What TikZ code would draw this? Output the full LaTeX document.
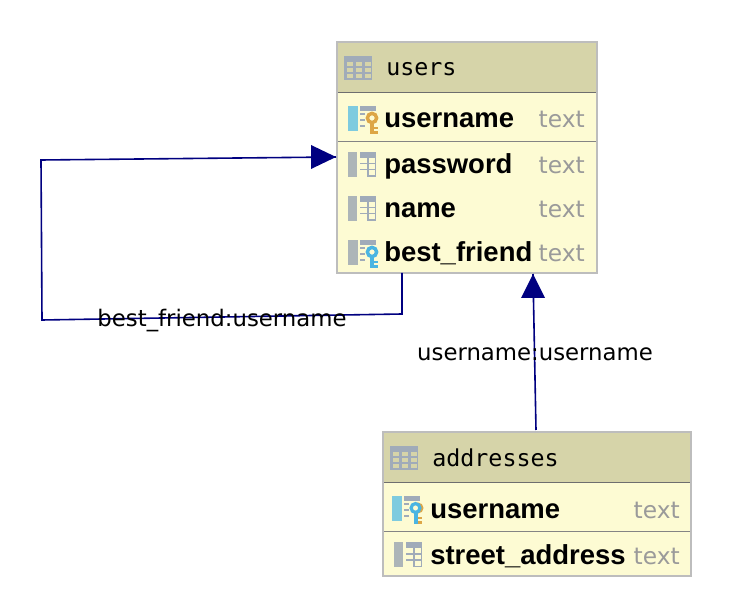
\documentclass[tikz,border=0pt]{standalone}
\usepackage{fontspec}
\setmainfont{Liberation Sans}
\newfontfamily\hdrfont{DejaVu Sans Mono}
\newfontfamily\lblfont{DejaVu Sans}
\newfontfamily\colfont{Liberation Sans}[BoldFont={Liberation Sans Bold}]
\definecolor{hdr}{HTML}{D6D4A9}
\definecolor{body}{HTML}{FDFBD3}
\definecolor{bord}{HTML}{BDBDBD}
\definecolor{sep}{HTML}{6E6E6E}
\definecolor{ico}{HTML}{A0ABB9}
\definecolor{bar}{HTML}{ADB5B8}
\definecolor{pk}{HTML}{7ECBDF}
\definecolor{gold}{HTML}{DDA646}
\definecolor{blu}{HTML}{4AB5E2}
\definecolor{lnk}{HTML}{000080}
\definecolor{typ}{HTML}{9A9A9A}
\tikzset{
  tablebox/.style={draw=bord,line width=1.5pt,fill=body,inner sep=0pt,outer sep=0pt,minimum width=0pt},
  headtext/.style={anchor=base west,inner sep=0pt,font=\hdrfont\fontsize{17.5}{20}\selectfont,text=black},
  coltext/.style={anchor=base west,inner sep=0pt,font=\colfont\bfseries\fontsize{20.6}{23}\selectfont,text=black},
  typetext/.style={anchor=base east,inner sep=0pt,font=\lblfont\fontsize{17.5}{20}\selectfont,text=typ},
  lbl/.style={inner sep=0pt,font=\lblfont\fontsize{17.1}{20}\selectfont,text=black},
  link/.style={draw=lnk,line width=1.2pt,line join=miter},
  tip/.style={fill=lnk,draw=none}
}
% table icon at top-left (x,y)
\newcommand{\tblicon}[2]{%
  \begin{scope}[shift={(#1,#2)}]
    \fill[ico] (0,0) rectangle (28,24);
    \foreach \cx in {2.5,11.5,20.5}\foreach \cy in {6.5,12.5,18}
      \fill[hdr] (\cx,\cy) rectangle ++(6.5,4);
  \end{scope}}
% column icon at top-left (x,y), #3 bar colour
\newcommand{\colicon}[3]{%
  \begin{scope}[shift={(#1,#2)}]
    \fill[#3] (0,0) rectangle (9,25);
    \fill[ico] (12,0) rectangle (28,6);
    \fill[ico] (12,11) rectangle (28,12.5);
    \fill[ico] (12,17) rectangle (28,18.5);
    \fill[ico] (19,6) rectangle (20.5,25);
    \fill[ico] (26.5,6) rectangle (28,25);
    \fill[ico] (19,23.5) rectangle (28,25);
  \end{scope}}
% key column icon: #3 bar colour, #4 key colour
\newcommand{\keyicon}[4]{%
  \begin{scope}[shift={(#1,#2)}]
    \fill[#3] (0,0) rectangle (10,25);
    \fill[ico] (12,0) rectangle (28,5);
    \fill[ico] (12,7) rectangle (17,9);
    \fill[ico] (12,13) rectangle (17,15);
    \fill[ico] (12,19) rectangle (17,21);
    \draw[#4,line width=3pt] (24,14) -- (24,28);
    \draw[#4,line width=2.2pt] (24,22) -- (30,22);
    \draw[#4,line width=2.2pt] (24,26.5) -- (30,26.5);
    \draw[#4,line width=2.6pt,fill=body] (24,12) circle (4.6);
  \end{scope}}
\begin{document}
\begin{tikzpicture}[x=0.75pt,y=-0.75pt]
\useasboundingbox (0,0) rectangle (732,616);
% tables
\node[tablebox,minimum width=195pt,minimum height=173.25pt,anchor=north west] (users) at (337,42) {};
\fill[hdr] (338,43) rectangle (596,92);
\draw[sep,line width=1.3pt] (338,92.5) -- (596,92.5);
\draw[sep!85!white,line width=1.3pt] (338,141.5) -- (596,141.5);
\node[tablebox,minimum width=231pt,minimum height=108pt,anchor=north west] (addr) at (383,432) {};
\fill[hdr] (384,433) rectangle (690,482);
\draw[sep,line width=1.3pt] (384,482.5) -- (690,482.5);
\draw[sep!85!white,line width=1.3pt] (384,531.5) -- (690,531.5);
% icons
\tblicon{344}{56}
\keyicon{348}{106}{pk}{gold}
\colicon{348}{152}{bar}
\colicon{348}{196}{bar}
\keyicon{348}{240}{bar}{blu}
\tblicon{390}{446}
\begin{scope}[shift={(392,496)}]
  \fill[pk] (0,0) rectangle (10,25);
  \fill[ico] (12,0) rectangle (28,5);
  \fill[ico] (12,7) rectangle (17,9);
  \fill[ico] (12,13) rectangle (17,15);
  \fill[ico] (12,19) rectangle (17,21);
  \draw[gold,line width=2.2pt] (24,22) -- (30,22);
  \draw[gold,line width=2.2pt] (24,26.5) -- (30,26.5);
  \draw[gold,line width=2.4pt,fill=body] (26,12) circle (3.8);
  \draw[blu,line width=3pt] (23.5,14) -- (23.5,28);
  \draw[blu,line width=2.4pt,fill=body] (23.5,12) circle (4.4);
\end{scope}
\colicon{394}{542}{bar}
% texts
\node[headtext] (t1) at (386,76) {users};
\node[coltext] (c1) at (384,128) {username};
\node[typetext] (y1) at (585,128) {text};
\node[coltext] (c2) at (384,174) {password};
\node[typetext] (y2) at (585,174) {text};
\node[coltext] (c3) at (384,218) {name};
\node[typetext] (y3) at (585,218) {text};
\node[coltext] (c4) at (384,262) {best\_friend};
\node[typetext] (y4) at (585,262) {text};
\node[headtext] (t2) at (432,466) {addresses};
\node[coltext] (c5) at (430,518) {username};
\node[typetext] (y5) at (680,518) {text};
\node[coltext] (c6) at (430,564) {street\_address};
\node[typetext] (y6) at (680,564) {text};
% connectors
\coordinate (uA) at (402,273);
\coordinate (b1) at (402,314);
\coordinate (b2) at (42,320);
\coordinate (b3) at (41,160);
\coordinate (uB) at (336,157);
\draw[link] (uA) -- (b1) -- (b2) -- (b3) -- (uB);
\fill[tip] (336,157) -- (311,145) -- (311,169) -- cycle;
\coordinate (aT) at (536,430);
\coordinate (uC) at (533,274);
\draw[link] (aT) -- (uC);
\fill[tip] (533,274) -- (521,298) -- (545,298) -- cycle;
% labels
\node[lbl,anchor=base] (l1) at (222,327) {best\_friend:username};
\node[lbl,anchor=base] (l2) at (535,361) {username:username};
\end{tikzpicture}
\end{document}
